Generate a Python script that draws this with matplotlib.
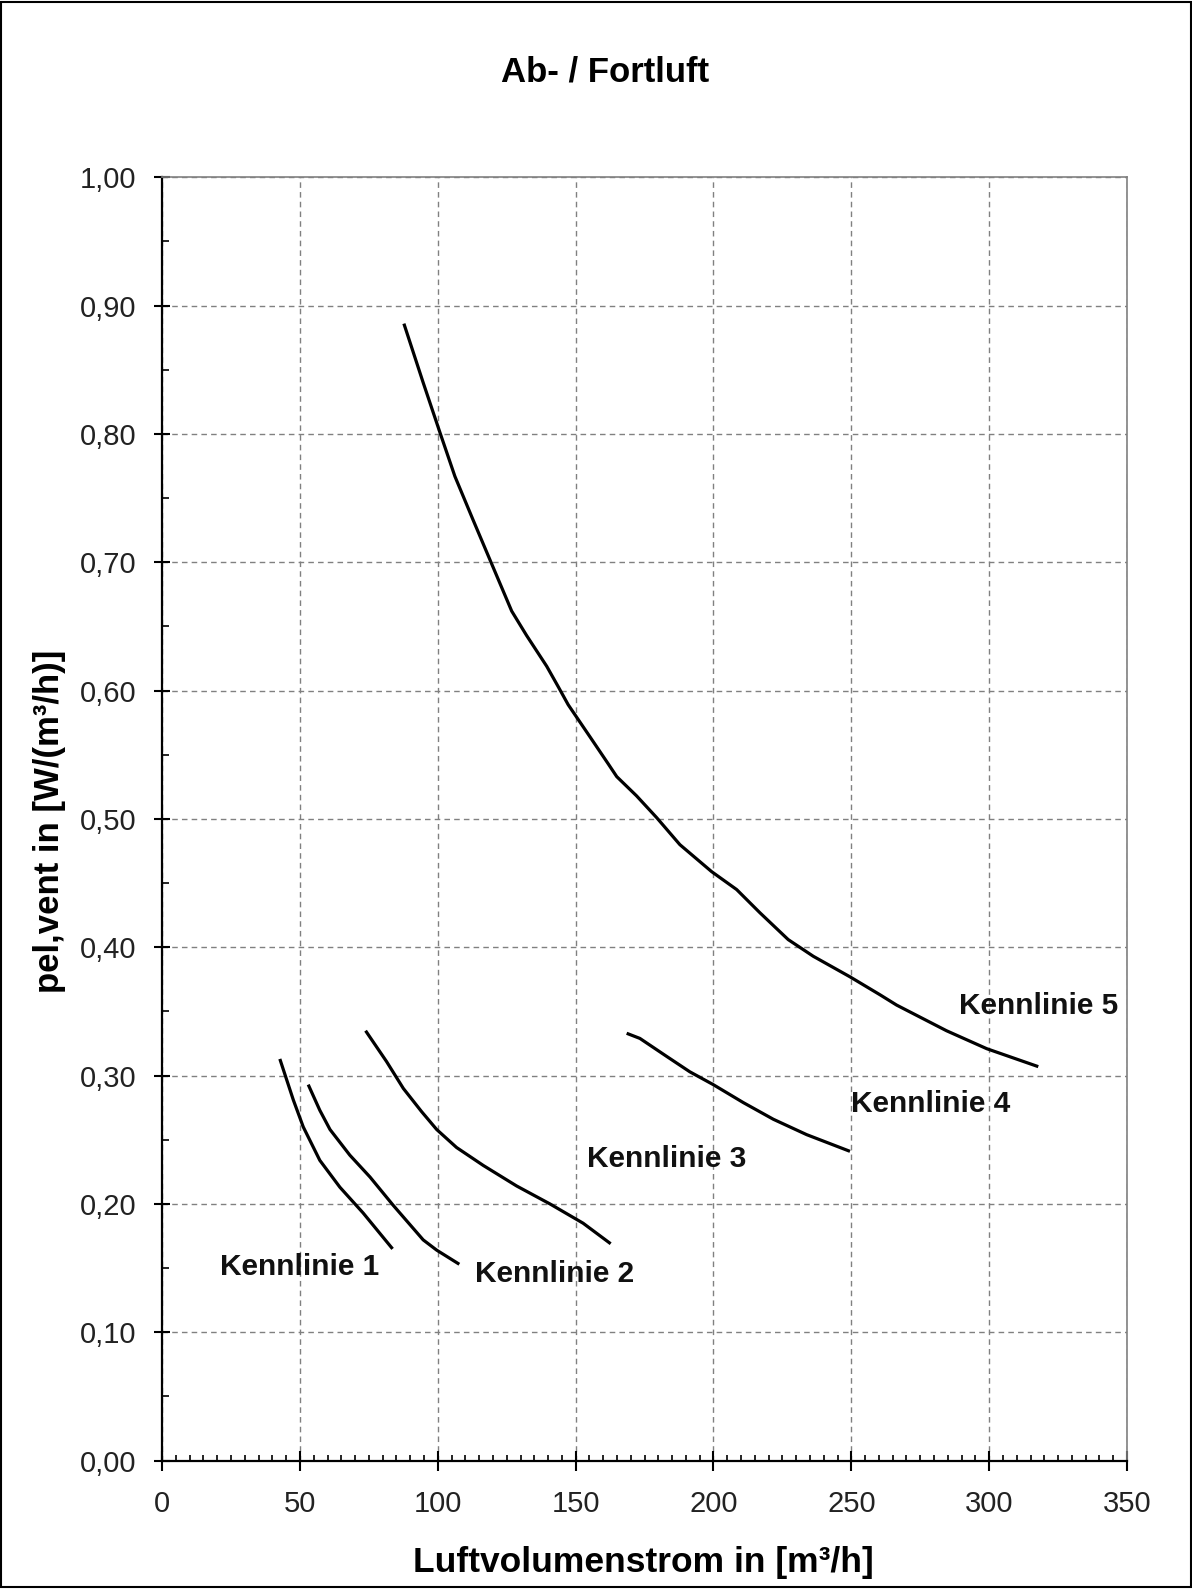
import numpy as np
import matplotlib.pyplot as plt
from matplotlib.ticker import MultipleLocator, FuncFormatter
from matplotlib.patches import Rectangle

plt.rcParams['font.family'] = ['Liberation Sans', 'DejaVu Sans']

# Kennlinien
x1 = [42.7, 47.6, 51.2, 57.2, 64.5, 72.9, 83.6]
y1 = [0.313, 0.281, 0.260, 0.234, 0.213, 0.193, 0.165]

x2 = [53.0, 57.2, 60.9, 68.1, 75.4, 83.8, 94.7, 99.6, 107.8]
y2 = [0.293, 0.273, 0.258, 0.238, 0.221, 0.199, 0.172, 0.164, 0.153]

x3 = [73.8, 81.4, 87.5, 94.1, 99.6, 106.8, 116.5, 128.6, 140.7, 152.7, 162.7]
y3 = [0.335, 0.311, 0.290, 0.272, 0.258, 0.244, 0.230, 0.214, 0.200, 0.185, 0.169]

x4 = [168.5, 173.3, 183.0, 191.4, 199.9, 210.8, 221.7, 233.8, 249.5]
y4 = [0.333, 0.329, 0.315, 0.303, 0.293, 0.279, 0.266, 0.254, 0.241]

x5 = [87.7, 94.7, 100.8, 106.2, 112.8, 119.5, 126.8, 132.2, 139.5, 143.7,
      147.3, 155.2, 161.8, 164.9, 172.1, 179.4, 187.8, 199.3, 208.4, 216.8,
      227.1, 236.2, 249.5, 260.4, 266.4, 284.5, 299.1, 317.8]
y5 = [0.886, 0.840, 0.801, 0.767, 0.733, 0.699, 0.662, 0.643, 0.619, 0.603,
      0.589, 0.564, 0.543, 0.533, 0.518, 0.501, 0.480, 0.459, 0.445, 0.427,
      0.406, 0.393, 0.377, 0.363, 0.355, 0.335, 0.321, 0.307]

labels = ["Kennlinie 1", "Kennlinie 2", "Kennlinie 3", "Kennlinie 4", "Kennlinie 5"]
label_x = [49.8, 142.4, 182.9, 278.6, 318.0]
label_y = [0.1446, 0.1394, 0.2288, 0.272, 0.348]

fig = plt.figure(figsize=(11.92, 15.89), dpi=100)
ax = fig.add_axes([0.136, 0.0808, 0.8095, 0.8076])

for xs, ys in [(x1, y1), (x2, y2), (x3, y3), (x4, y4), (x5, y5)]:
    ax.plot(xs, ys, color='black', lw=2.3, solid_capstyle='butt', solid_joinstyle='round')

for t, lx, ly in zip(labels, label_x, label_y):
    ax.text(lx, ly, t, ha='center', va='baseline', fontsize=21.5, fontweight='bold', color='#111111')

ax.set_xlim(0, 350)
ax.set_ylim(0, 1.0)
ax.xaxis.set_major_locator(MultipleLocator(50))
ax.xaxis.set_minor_locator(MultipleLocator(5))
ax.yaxis.set_major_locator(MultipleLocator(0.1))
ax.yaxis.set_minor_locator(MultipleLocator(0.05))
ax.yaxis.set_major_formatter(FuncFormatter(lambda v, p: f"{v:.2f}".replace('.', ',')))

ax.grid(True, which='major', color='#808080', linestyle=(0, (4, 3)), lw=1.0)
ax.set_axisbelow(True)

ax.tick_params(axis='x', which='major', direction='inout', length=14, width=1.5,
               labelsize=21, pad=14, colors='black', labelcolor='#222222')
ax.tick_params(axis='x', which='minor', direction='in', length=4, width=1.2)
ax.tick_params(axis='y', which='major', direction='inout', length=11, width=1.5,
               labelsize=21, pad=13, colors='black', labelcolor='#222222')
ax.tick_params(axis='y', which='minor', direction='in', length=5, width=1.2)

for s in ['left', 'bottom']:
    ax.spines[s].set_linewidth(1.6)
    ax.spines[s].set_color('black')
for s in ['top', 'right']:
    ax.spines[s].set_linewidth(1.2)
    ax.spines[s].set_color('#808080')

ax.set_xlabel("Luftvolumenstrom in [m³/h]", fontsize=25.5, fontweight='bold', va='baseline')
ax.xaxis.set_label_coords(0.499, -0.0866)
ax.set_ylabel("pel,vent in [W/(m³/h)]", fontsize=25, fontweight='bold', va='center')
ax.yaxis.set_label_coords(-0.1172, 0.498)

fig.text(0.5076, 0.9486, "Ab- / Fortluft", ha='center', va='baseline', fontsize=25, fontweight='bold')

fig.patches.append(Rectangle((0.001, 0.001), 0.998, 0.998, transform=fig.transFigure,
                             fill=False, edgecolor='black', lw=1.5))

fig.savefig("out.png", dpi=100)
